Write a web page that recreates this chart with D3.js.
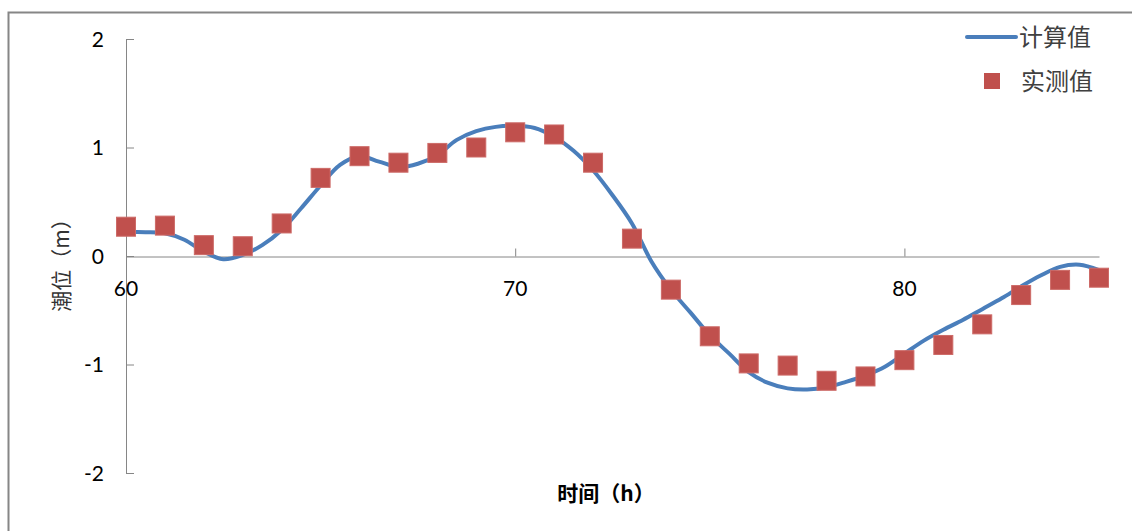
<!DOCTYPE html>
<html><head><meta charset="utf-8">
<script src="https://cdn.jsdelivr.net/npm/d3@7"></script>
<style>body{margin:0;background:#fff}</style>
</head><body>
<svg id="c" width="1132" height="531"></svg>
<script>
const hoursMeasured = [60,61,62,63,64,65,66,67,68,69,70,71,72,73,74,75,76,77,78,79,80,81,82,83,84,85];
const measured = [0.27,0.28,0.10,0.09,0.30,0.72,0.92,0.86,0.95,1.00,1.14,1.12,0.86,0.16,-0.31,-0.74,-0.99,-1.01,-1.15,-1.11,-0.96,-0.82,-0.63,-0.36,-0.22,-0.20];
const hoursCalc = [60,60.5,61,61.5,62,62.5,63,63.5,64,64.5,65,65.5,66,66.5,67,67.5,68,68.5,69,69.5,70,70.5,71,71.5,72,72.5,73,73.5,74,74.5,75,75.5,76,76.5,77,77.5,78,78.5,79,79.5,80,80.5,81,81.5,82,82.5,83,83.5,84,84.5,85];
const calculated = [0.22,0.22,0.21,0.15,0.04,-0.03,0.01,0.10,0.24,0.44,0.65,0.84,0.92,0.87,0.82,0.85,0.93,1.07,1.15,1.19,1.20,1.18,1.10,0.97,0.79,0.56,0.30,-0.05,-0.31,-0.52,-0.73,-0.90,-1.07,-1.17,-1.22,-1.23,-1.21,-1.16,-1.10,-1.02,-0.90,-0.78,-0.68,-0.59,-0.49,-0.39,-0.28,-0.18,-0.10,-0.08,-0.13];
const xTicks = [60,70,80];
const yTicks = [-2,-1,0,1,2];
const seriesNames = ["计算值","实测值"];
const xTitle = "时间（h）";
const yTitle = "潮位（m）";

const svg = d3.select("#c");
const font = "Lato, 'Noto Sans CJK SC', sans-serif";
const cjk = "'Noto Sans CJK SC', sans-serif";
const axisColor = "#868686";

svg.append("rect").attr("x",8.5).attr("y",12.5).attr("width",1200).attr("height",600)
  .attr("fill","#fff").attr("stroke",axisColor).attr("stroke-width",2);

const x = d3.scaleLinear().domain([60,85]).range([126,1099]);
const y = d3.scaleLinear().domain([-2,2]).range([473,39]);

// Y axis
const yAx = svg.append("g").attr("transform","translate(126,0)")
  .call(d3.axisRight(y).tickValues(yTicks).tickSize(8).tickFormat(""));
yAx.select(".domain").attr("stroke",axisColor).attr("d","M8,39.5H0.5V473.5H8");
yAx.selectAll(".tick line").attr("stroke",axisColor);
svg.append("g").selectAll("text").data(yTicks).join("text")
  .attr("x",104).attr("y",d=>y(d)).attr("dy","0.36em").attr("text-anchor","end")
  .attr("font-family",font).attr("font-size",21).attr("fill","#000").text(d=>d);

// X axis at y=0
const xAx = svg.append("g").attr("transform",`translate(0,${Math.round(y(0))+0.5})`)
  .call(d3.axisTop(x).tickValues(xTicks.filter(d=>d!==60)).tickSize(8).tickSizeOuter(0).tickFormat(""));
xAx.select(".domain").attr("stroke",axisColor);
xAx.selectAll(".tick line").attr("stroke",axisColor);
svg.append("g").selectAll("text").data(xTicks).join("text")
  .attr("x",d=>x(d)).attr("y",y(0)+40).attr("text-anchor","middle")
  .attr("font-family",font).attr("font-size",21).attr("fill","#000").text(d=>d);

// Titles
svg.append("text").attr("transform","translate(69,260) rotate(-90)").attr("text-anchor","middle")
  .attr("font-family",cjk).attr("font-size",21).attr("fill","#333").text(yTitle);
svg.append("text").attr("x",606).attr("y",501).attr("text-anchor","middle")
  .attr("font-family",cjk).attr("font-weight","bold").attr("font-size",21).attr("fill","#000").text(xTitle);

// Line
const line = d3.line().x((d,i)=>x(hoursCalc[i])).y(d=>y(d)).curve(d3.curveCatmullRom);
svg.append("path").datum(calculated).attr("d",line).attr("fill","none")
  .attr("stroke","#4A7EBB").attr("stroke-width",4).attr("stroke-linejoin","round");

// Points
const s = 19;
svg.append("g").selectAll("rect").data(measured).join("rect")
  .attr("x",(d,i)=>x(hoursMeasured[i])-s/2).attr("y",d=>y(d)-s/2)
  .attr("width",s).attr("height",s).attr("fill","#C0504D").attr("stroke","#CD6A67").attr("stroke-width",1);

// Legend
const lg = svg.append("g");
lg.append("line").attr("x1",967).attr("x2",1016).attr("y1",37).attr("y2",37)
  .attr("stroke","#4A7EBB").attr("stroke-width",4).attr("stroke-linecap","round");
lg.append("text").attr("x",1019).attr("y",37).attr("dy","0.36em")
  .attr("font-family",cjk).attr("font-size",24).attr("fill","#404040").text(seriesNames[0]);
lg.append("rect").attr("x",984).attr("y",73).attr("width",16).attr("height",16).attr("fill","#C0504D");
lg.append("text").attr("x",1021).attr("y",81).attr("dy","0.36em")
  .attr("font-family",cjk).attr("font-size",24).attr("fill","#404040").text(seriesNames[1]);
</script>
</body></html>
